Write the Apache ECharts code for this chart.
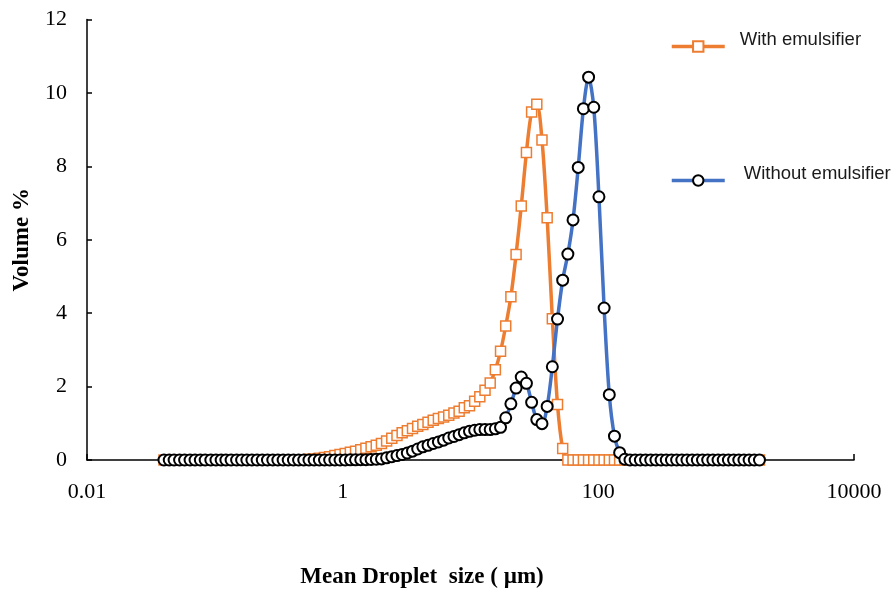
<!DOCTYPE html>
<html>
<head>
<meta charset="utf-8">
<title>Droplet size distribution</title>
<script src="https://cdn.jsdelivr.net/npm/echarts@6/dist/echarts.min.js"></script>
<style>
  html, body { margin: 0; padding: 0; background: #ffffff; }
  #chart { width: 896px; height: 594px; }
</style>
</head>
<body>
<div id="chart"></div>
<script>
// Particle size channels (µm), lower edge of each bin
const sizes = [
  0.04, 0.044, 0.048, 0.053, 0.058, 0.064, 0.070, 0.077, 0.084, 0.093,
  0.102, 0.112, 0.122, 0.134, 0.148, 0.162, 0.178, 0.195, 0.214, 0.235,
  0.258, 0.284, 0.311, 0.342, 0.375, 0.412, 0.452, 0.496, 0.545, 0.598,
  0.657, 0.721, 0.791, 0.869, 0.954, 1.047, 1.149, 1.261, 1.385, 1.520,
  1.669, 1.832, 2.011, 2.207, 2.423, 2.660, 2.920, 3.205, 3.519, 3.863,
  4.240, 4.655, 5.110, 5.610, 6.158, 6.760, 7.421, 8.147, 8.943, 9.817,
  10.78, 11.83, 12.99, 14.26, 15.65, 17.18, 18.86, 20.70, 22.73, 24.95,
  27.39, 30.07, 33.01, 36.24, 39.78, 43.67, 47.94, 52.62, 57.77, 63.41,
  69.61, 76.42, 83.89, 92.09, 101.1, 111.0, 121.8, 133.7, 146.8, 161.2,
  176.9, 194.2, 213.2, 234.1, 256.9, 282.1, 309.6, 339.9, 373.1, 409.6,
  449.7, 493.6, 541.9, 594.9, 653.0, 716.8, 786.9, 863.9, 948.3, 1041,
  1143, 1255, 1377, 1512, 1660, 1822
];

// Volume % per channel, with emulsifier
const withEmulsifier = [
  0, 0, 0, 0, 0, 0, 0, 0, 0, 0,
  0, 0, 0, 0, 0, 0, 0, 0, 0, 0,
  0, 0, 0, 0, 0, 0.005, 0.01, 0.01, 0.02, 0.03,
  0.05, 0.07, 0.09, 0.12, 0.15, 0.18, 0.21, 0.24, 0.28, 0.32,
  0.36, 0.40, 0.45, 0.52, 0.59, 0.67, 0.74, 0.80, 0.86, 0.92,
  0.97, 1.03, 1.08, 1.13, 1.17, 1.22, 1.28, 1.33, 1.42, 1.48,
  1.60, 1.72, 1.90, 2.10, 2.46, 2.96, 3.65, 4.45, 5.60, 6.92,
  8.38, 9.48, 9.69, 8.72, 6.60, 3.85, 1.51, 0.31, 0, 0,
  0, 0, 0, 0, 0, 0, 0, 0, 0, 0,
  0, 0, 0, 0, 0, 0, 0, 0, 0, 0,
  0, 0, 0, 0, 0, 0, 0, 0, 0, 0,
  0, 0, 0, 0, 0, 0
];

// Volume % per channel, without emulsifier
const withoutEmulsifier = [
  0, 0, 0, 0, 0, 0, 0, 0, 0, 0,
  0, 0, 0, 0, 0, 0, 0, 0, 0, 0,
  0, 0, 0, 0, 0, 0, 0, 0, 0, 0,
  0, 0, 0, 0, 0, 0, 0.005, 0.005, 0.01, 0.01,
  0.015, 0.02, 0.03, 0.06, 0.09, 0.12, 0.15, 0.19, 0.24, 0.30,
  0.36, 0.40, 0.45, 0.49, 0.54, 0.60, 0.64, 0.69, 0.74, 0.78,
  0.81, 0.83, 0.83, 0.83, 0.85, 0.89, 1.15, 1.53, 1.96, 2.26,
  2.09, 1.57, 1.10, 0.99, 1.46, 2.54, 3.84, 4.90, 5.61, 6.54,
  7.97, 9.57, 10.43, 9.61, 7.17, 4.14, 1.78, 0.65, 0.20, 0.02,
  0, 0, 0, 0, 0, 0, 0, 0, 0, 0,
  0, 0, 0, 0, 0, 0, 0, 0, 0, 0,
  0, 0, 0, 0, 0, 0
];

const xTickValues = [0.01, 1, 100, 10000];
const xTickLabels = ['0.01', '1', '100', '10000'];
const seriesNames = ['With emulsifier', 'Without emulsifier'];

const pairs = (ys) => sizes.map((s, i) => [s, ys[i]]);

const serif = 'Liberation Serif, Times New Roman, serif';
const sans = 'Liberation Sans, Arial, sans-serif';

// Legend entry: text sits a little above the line icon (blank second line)
const legendFor = (name, top, padLeft) => ({
  data: [name],
  orient: 'vertical',
  left: 665, top: top,
  itemWidth: 53, itemHeight: 13,
  lineStyle: { width: 3.5 },
  formatter: (n) => n + '\n ',
  textStyle: {
    fontFamily: sans, fontSize: 18.5, color: '#1a1a1a',
    lineHeight: 14, padding: [0, 0, 0, padLeft]
  }
});

const chart = echarts.init(document.getElementById('chart'), null, { renderer: 'canvas' });

chart.setOption({
  animation: false,
  backgroundColor: '#ffffff',
  grid: { left: 87, right: 42, top: 19.5, bottom: 133.5, containLabel: false },
  legend: [
    legendFor(seriesNames[0], 25, 10),
    legendFor(seriesNames[1], 159, 14)
  ],
  xAxis: {
    type: 'log',
    logBase: 10,
    min: 0.01,
    max: 10000,
    name: 'Mean Droplet  size ( µm)',
    nameLocation: 'middle',
    nameGap: 106,
    nameTextStyle: {
      fontFamily: serif, fontSize: 23, fontWeight: 'bold', color: '#000',
      padding: [0, 97, 0, 0]
    },
    axisLine: { lineStyle: { color: '#000', width: 1.5 } },
    axisTick: { show: true, inside: true, length: 6, customValues: xTickValues,
      lineStyle: { color: '#000', width: 1.5 } },
    axisLabel: {
      customValues: xTickValues,
      margin: 21,
      fontFamily: serif, fontSize: 22, color: '#000',
      formatter: (v) => {
        let best = 0;
        xTickValues.forEach((t, i) => {
          if (Math.abs(Math.log10(t) - Math.log10(v)) < Math.abs(Math.log10(xTickValues[best]) - Math.log10(v))) best = i;
        });
        return xTickLabels[best];
      }
    },
    splitLine: { show: false },
    minorTick: { show: false }
  },
  yAxis: {
    type: 'value',
    min: 0,
    max: 12,
    interval: 2,
    name: 'Volume %',
    nameLocation: 'middle',
    nameGap: 53,
    nameTextStyle: { fontFamily: serif, fontSize: 23, fontWeight: 'bold', color: '#000' },
    axisLine: { show: true, lineStyle: { color: '#000', width: 1.5 } },
    axisTick: { show: true, inside: true, length: 5, lineStyle: { color: '#000', width: 1.5 } },
    axisLabel: { margin: 20, fontFamily: serif, fontSize: 22, color: '#000' },
    splitLine: { show: false }
  },
  series: [
    {
      name: seriesNames[0],
      type: 'line',
      data: pairs(withEmulsifier),
      smooth: 0.3,
      symbol: 'rect',
      symbolSize: 10,
      showAllSymbol: true,
      lineStyle: { color: '#ED7D31', width: 3.5 },
      itemStyle: { color: '#ffffff', borderColor: '#ED7D31', borderWidth: 1.5 },
      z: 2
    },
    {
      name: seriesNames[1],
      type: 'line',
      data: pairs(withoutEmulsifier),
      smooth: 0.3,
      symbol: 'circle',
      symbolSize: 11,
      showAllSymbol: true,
      lineStyle: { color: '#4472C4', width: 3.5 },
      itemStyle: { color: '#ffffff', borderColor: '#000000', borderWidth: 2 },
      z: 3
    }
  ]
});
</script>
</body>
</html>
